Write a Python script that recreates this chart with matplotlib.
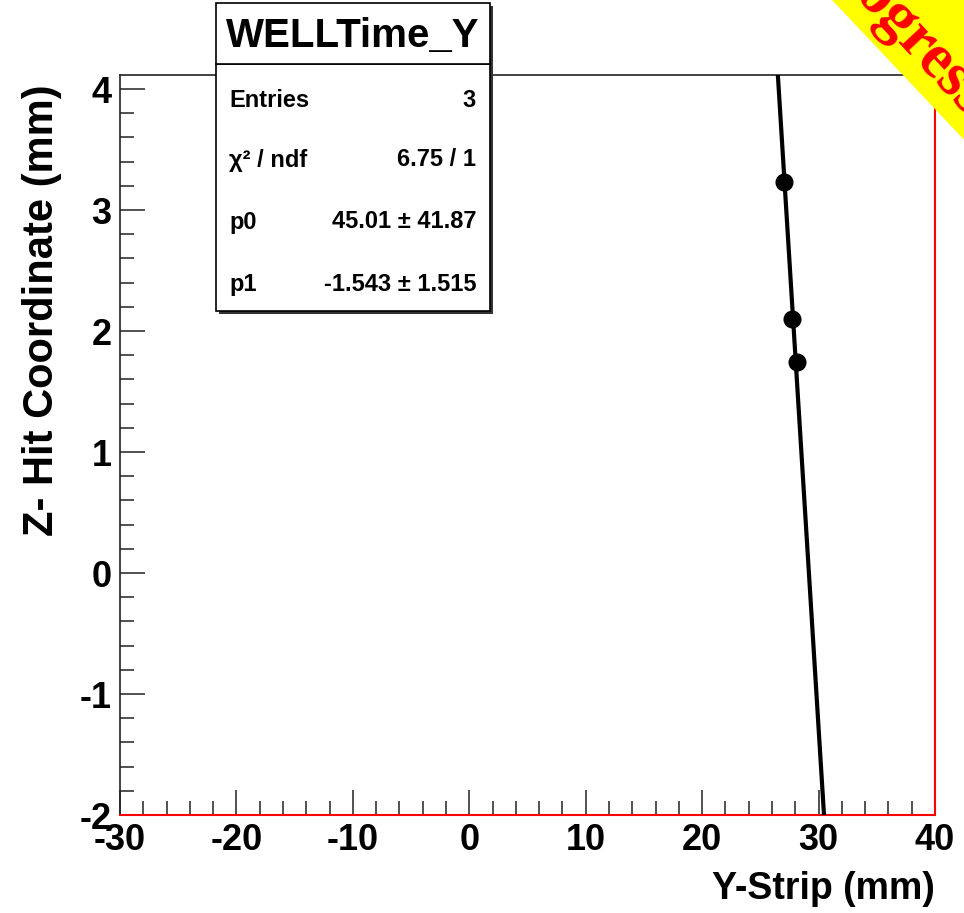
import matplotlib
matplotlib.use("Agg")
import matplotlib.pyplot as plt
from matplotlib import font_manager
from matplotlib.patches import Rectangle, Polygon
from matplotlib.ticker import MultipleLocator
import numpy as np

# data
y_strip = [27.0, 27.7, 28.15]
z_hit = [3.23, 2.10, 1.74]
p0, p0_err = 45.01, 41.87
p1, p1_err = -1.543, 1.515
chi2, ndf = 6.75, 1
stat_names = ["Entries", "χ² / ndf", "p0", "p1"]
stat_values = ["3", "6.75 / 1", "45.01 ± 41.87", "-1.543 ± 1.515"]

W, H = 964, 913


def pick_font():
    for name in ["Liberation Sans Narrow", "Liberation Sans"]:
        try:
            font_manager.findfont(name, fallback_to_default=False)
            return name
        except Exception:
            pass
    return "DejaVu Sans"


FONT = pick_font()
plt.rcParams['font.family'] = [FONT, 'DejaVu Sans']
plt.rcParams['font.weight'] = 'bold'
plt.rcParams['axes.unicode_minus'] = False


def fx(px):
    return px / W


def fy(py):
    return 1 - py / H


fig = plt.figure(figsize=(W / 100, H / 100), dpi=100)
ax = fig.add_axes([fx(120), fy(815), fx(935) - fx(120), fy(75) - fy(815)])

# fit line
xl = np.array([20.0, 35.0])
ax.plot(xl, p0 + p1 * xl, color='black', lw=3, zorder=3)
ax.plot(y_strip, z_hit, 'o', color='black', ms=12, zorder=4)

ax.set_xlim(-30, 40)
ax.set_ylim(-2, 4.116)
ax.xaxis.set_major_locator(MultipleLocator(10))
ax.xaxis.set_minor_locator(MultipleLocator(2))
ax.yaxis.set_major_locator(MultipleLocator(1))
ax.yaxis.set_minor_locator(MultipleLocator(0.2))
ax.tick_params(which='both', direction='in', top=False, right=False, width=1.2, color='#333333')
ax.tick_params(which='major', length=18, labelsize=26, pad=6)
ax.tick_params(which='minor', length=10)
for lab in ax.get_xticklabels() + ax.get_yticklabels():
    lab.set_fontweight('bold')

for s in ['left', 'top']:
    ax.spines[s].set_color('#222222')
    ax.spines[s].set_linewidth(1.2)
for s in ['right', 'bottom']:
    ax.spines[s].set_color('red')
    ax.spines[s].set_linewidth(1.5)

ax.set_xlabel('Y-Strip (mm)', fontsize=27, fontweight='bold', loc='right', labelpad=9)
fig.text(fx(42), fy(310), 'Z- Hit Coordinate (mm)', rotation=90, fontsize=30,
         fontweight='bold', ha='center', va='center')

# stats box
def box(x0, y0, x1, y1):
    fig.add_artist(Rectangle((fx(x0 + 3), fy(y1 + 3)), fx(x1 - x0), fy(y0) - fy(y1),
                             transform=fig.transFigure, facecolor='#333333', edgecolor='none', zorder=9))
    fig.add_artist(Rectangle((fx(x0), fy(y1)), fx(x1 - x0), fy(y0) - fy(y1),
                             transform=fig.transFigure, facecolor='white', edgecolor='black', lw=1.2, zorder=10))

box(216, 64, 490, 311)
box(216, 3, 490, 64)
fig.text(fx(353), fy(36), 'WELLTime_Y', fontsize=29, fontweight='bold', ha='center', va='center', zorder=11)
rows_y = [100, 160, 222, 284]
for name, val, ry in zip(stat_names, stat_values, rows_y):
    fig.text(fx(229), fy(ry), name, fontsize=17, fontweight='bold', ha='left', va='center', zorder=11)
    fig.text(fx(476), fy(ry), val, fontsize=17, fontweight='bold', ha='right', va='center', zorder=11)

# "Progress" banner in the corner
fig.add_artist(Polygon([(fx(832), fy(0)), (fx(W + 5), fy(0)), (fx(W + 5), fy(145))],
                       closed=True, transform=fig.transFigure, facecolor='yellow', edgecolor='none', zorder=12))
fig.text(fx(889), fy(34), 'Progress', color='red', fontsize=45, fontweight='bold',
         family=['Liberation Serif', 'DejaVu Serif'], rotation=-47, rotation_mode='anchor',
         ha='center', va='baseline', zorder=13)

fig.savefig('out.png', dpi=100)
